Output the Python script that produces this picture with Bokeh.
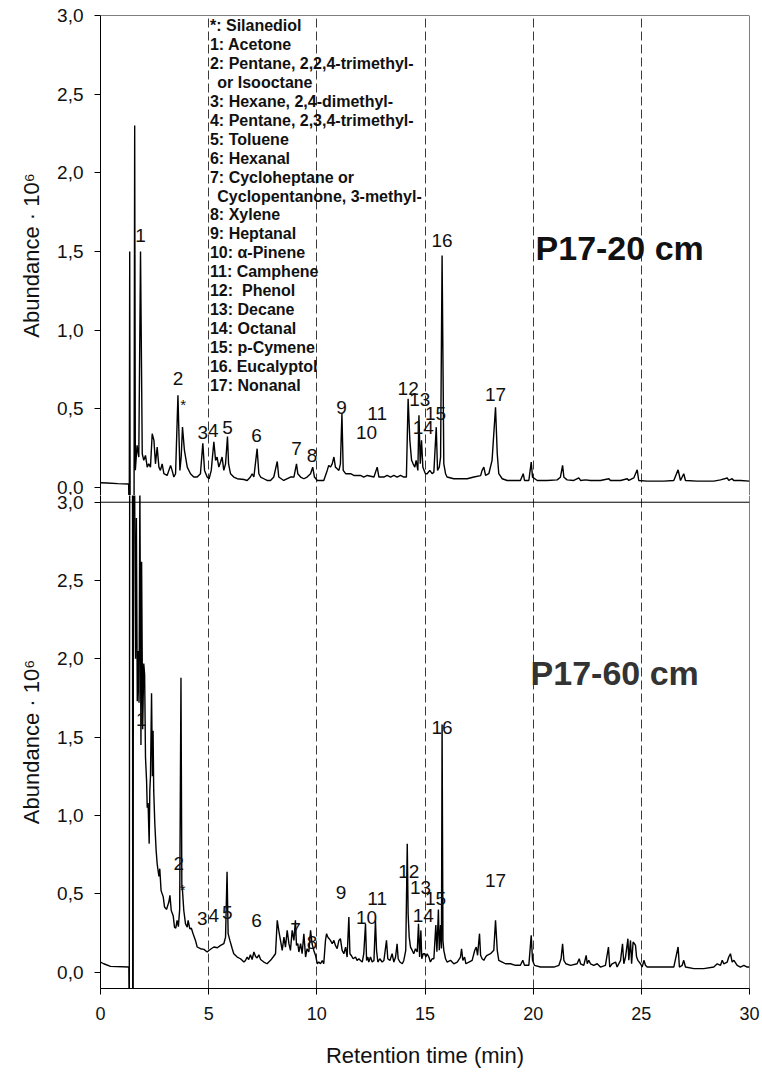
from bokeh.plotting import figure
from bokeh.layouts import column
from bokeh.models import Range1d, FixedTicker, CustomJSTickFormatter, Span
from bokeh.core.properties import value
from bokeh.embed import file_html
from bokeh.resources import INLINE

FONT = "Liberation Sans"

# ---------------- data: P17-20 cm (top) ----------------
top_rt = [0.00, 0.30, 0.80, 1.30, 1.33, 1.35, 1.37, 1.55, 1.58, 1.61, 1.69, 1.77, 1.85, 1.93,
          2.00, 2.08, 2.16, 2.23, 2.31, 2.39, 2.47, 2.54, 2.62, 2.70, 2.77, 2.85, 2.93, 3.08,
          3.24, 3.31, 3.39, 3.47, 3.58, 3.67, 3.73, 3.79, 3.88, 4.01, 4.16, 4.31, 4.47, 4.62,
          4.73, 4.81, 4.93, 5.02, 5.12, 5.24, 5.32, 5.39, 5.47, 5.55, 5.62, 5.70, 5.78, 5.87,
          5.92, 6.01, 6.16, 6.32, 6.63, 6.78, 6.93, 7.01, 7.09, 7.24, 7.32, 7.40, 7.55, 7.70,
          7.86, 8.01, 8.17, 8.24, 8.47, 8.78, 8.94, 9.06, 9.12, 9.25, 9.40, 9.55, 9.71, 9.81,
          9.89, 10.02, 10.17, 10.32, 10.48, 10.55, 10.63, 10.71, 10.79, 10.86, 10.94, 11.02,
          11.09, 11.16, 11.22, 11.33, 11.56, 11.71, 12.02, 12.17, 12.33, 12.64, 12.79, 12.87,
          13.10, 13.25, 13.41, 13.56, 13.71, 13.87, 14.02, 14.14, 14.22, 14.30, 14.38, 14.45,
          14.53, 14.59, 14.67, 14.72, 14.78, 14.84, 14.90, 14.96, 15.02, 15.10, 15.22, 15.33,
          15.41, 15.52, 15.58, 15.66, 15.72, 15.79, 15.87, 15.95, 16.02, 16.33, 16.64, 16.95,
          17.26, 17.57, 17.64, 17.72, 17.80, 17.95, 18.10, 18.26, 18.34, 18.41, 18.57, 18.80,
          19.11, 19.41, 19.54, 19.60, 19.80, 19.91, 19.97, 20.19, 20.65, 21.11, 21.26, 21.36,
          21.42, 21.57, 21.88, 22.11, 22.19, 22.42, 22.65, 23.11, 23.50, 23.57, 24.04, 24.35,
          24.42, 24.65, 24.81, 24.88, 25.27, 26.04, 26.50, 26.70, 26.81, 26.96, 27.04, 27.58,
          28.35, 28.66, 28.97, 29.04, 29.20, 29.27, 29.58, 30.00]
top_ab = [0.030, 0.028, 0.024, 0.022, -0.20, 1.50, -0.20, -0.20, 2.30, 0.110, 0.267, 0.193, 1.50, 0.214,
          0.172, 0.203, 0.129, 0.150, 0.129, 0.341, 0.299, 0.150, 0.256, 0.129, 0.108, 0.150, 0.087, 0.076,
          0.140, 0.108, 0.066, 0.087, 0.585, 0.108, 0.193, 0.383, 0.235, 0.129, 0.087, 0.066, 0.066, 0.087,
          0.280, 0.108, 0.066, 0.055, 0.108, 0.290, 0.172, 0.193, 0.129, 0.161, 0.193, 0.108, 0.150, 0.324,
          0.150, 0.087, 0.066, 0.055, 0.050, 0.044, 0.066, 0.087, 0.066, 0.246, 0.087, 0.066, 0.055, 0.044,
          0.044, 0.066, 0.165, 0.066, 0.044, 0.066, 0.066, 0.150, 0.087, 0.066, 0.055, 0.066, 0.087, 0.129,
          0.066, 0.044, 0.044, 0.044, 0.108, 0.140, 0.129, 0.150, 0.193, 0.129, 0.119, 0.108,
          0.150, 0.468, 0.108, 0.087, 0.087, 0.076, 0.076, 0.066, 0.076, 0.066, 0.129, 0.066,
          0.066, 0.076, 0.066, 0.076, 0.066, 0.076, 0.066, 0.066, 0.564, 0.299, 0.172, 0.150,
          0.129, 0.172, 0.108, 0.458, 0.150, 0.299, 0.129, 0.108, 0.087, 0.087, 0.108, 0.087,
          0.097, 0.383, 0.108, 0.129, 0.193, 1.475, 0.150, 0.087, 0.066, 0.055, 0.055, 0.055,
          0.066, 0.075, 0.108, 0.129, 0.076, 0.087, 0.172, 0.510, 0.214, 0.087, 0.055, 0.044,
          0.044, 0.044, 0.087, 0.044, 0.044, 0.161, 0.065, 0.044, 0.044, 0.048, 0.065, 0.140,
          0.065, 0.048, 0.044, 0.060, 0.044, 0.048, 0.044, 0.044, 0.055, 0.044, 0.044, 0.055,
          0.044, 0.060, 0.112, 0.044, 0.040, 0.040, 0.044, 0.112, 0.044, 0.087, 0.044, 0.040,
          0.040, 0.048, 0.060, 0.044, 0.055, 0.044, 0.044, 0.040]

# ---------------- data: P17-60 cm (bottom) ----------------
bot_rt = [0.00, 0.15, 0.46, 1.31, 1.33, 1.35, 1.48, 1.49, 1.51, 1.52, 1.57, 1.62, 1.66, 1.70,
          1.74, 1.78, 1.82, 1.87, 1.90, 1.95, 2.00, 2.04, 2.08, 2.13, 2.16, 2.20, 2.25, 2.28,
          2.31, 2.36, 2.40, 2.43, 2.46, 2.51, 2.57, 2.62, 2.70, 2.74, 2.80, 2.90, 2.96, 3.05,
          3.16, 3.21, 3.27, 3.36, 3.42, 3.48, 3.54, 3.60, 3.66, 3.72, 3.76, 3.79, 3.85, 3.93,
          4.01, 4.05, 4.13, 4.20, 4.28, 4.39, 4.47, 4.62, 4.78, 4.93, 5.01, 5.12, 5.24, 5.40,
          5.55, 5.70, 5.78, 5.85, 5.90, 5.98, 6.09, 6.16, 6.32, 6.47, 6.63, 6.70, 6.78, 6.85,
          6.93, 7.01, 7.09, 7.17, 7.24, 7.32, 7.40, 7.55, 7.70, 7.86, 7.98, 8.09, 8.17, 8.24,
          8.32, 8.40, 8.48, 8.55, 8.63, 8.71, 8.78, 8.86, 8.94, 9.01, 9.06, 9.12, 9.17, 9.25,
          9.32, 9.40, 9.48, 9.55, 9.63, 9.71, 9.78, 9.86, 9.94, 10.02, 10.09, 10.17, 10.25,
          10.32, 10.40, 10.45, 10.51, 10.57, 10.63, 10.71, 10.79, 10.86, 10.94, 11.02, 11.09,
          11.17, 11.25, 11.33, 11.40, 11.48, 11.53, 11.59, 11.68, 11.79, 11.86, 11.94, 12.02,
          12.10, 12.17, 12.25, 12.30, 12.36, 12.40, 12.48, 12.56, 12.64, 12.71, 12.76, 12.82,
          12.91, 13.02, 13.10, 13.22, 13.28, 13.38, 13.48, 13.56, 13.64, 13.71, 13.76, 13.84,
          13.95, 14.02, 14.11, 14.18, 14.22, 14.27, 14.33, 14.41, 14.48, 14.56, 14.64, 14.70,
          14.75, 14.81, 14.85, 14.92, 14.98, 15.04, 15.10, 15.18, 15.25, 15.33, 15.41, 15.50,
          15.55, 15.62, 15.66, 15.72, 15.76, 15.79, 15.83, 15.87, 15.95, 16.02, 16.18, 16.33,
          16.49, 16.64, 16.69, 16.75, 16.83, 16.89, 17.03, 17.18, 17.30, 17.37, 17.43, 17.52,
          17.57, 17.64, 17.72, 17.80, 17.87, 18.03, 18.18, 18.26, 18.34, 18.41, 18.57, 18.72,
          18.95, 19.18, 19.41, 19.52, 19.60, 19.80, 19.91, 19.97, 20.06, 20.34, 20.65, 20.96,
          21.19, 21.29, 21.36, 21.42, 21.51, 21.73, 22.03, 22.13, 22.19, 22.34, 22.45, 22.50,
          22.57, 22.65, 22.80, 22.96, 23.11, 23.34, 23.48, 23.54, 23.65, 23.81, 23.88, 24.04,
          24.13, 24.19, 24.27, 24.38, 24.42, 24.50, 24.55, 24.62, 24.68, 24.73, 24.78, 24.84,
          24.96, 25.04, 25.12, 25.19, 25.27, 25.58, 26.04, 26.50, 26.70, 26.76, 26.89, 26.96,
          27.04, 27.43, 27.89, 28.35, 28.51, 28.66, 28.74, 28.81, 28.97, 29.04, 29.12, 29.20,
          29.28, 29.43, 29.58, 29.74, 29.89, 30.00]
bot_ab = [0.064, 0.053, 0.036, 0.032, -0.30, 3.40, 3.40, -0.30, -0.30, 3.40, 3.30, 2.00, 2.90, 1.73,
          2.05, 1.72, 3.10, 1.45, 2.62, 1.55, 1.97, 1.90, 1.37, 1.22, 1.05, 1.08, 0.82, 1.16,
          1.25, 1.78, 1.25, 1.54, 1.16, 0.95, 0.78, 0.69, 0.61, 0.66, 0.52, 0.48, 0.415, 0.40,
          0.447, 0.49, 0.393, 0.36, 0.287, 0.28, 0.33, 0.29, 0.40, 1.88, 0.55, 0.52, 0.393, 0.308,
          0.287, 0.33, 0.276, 0.28, 0.245, 0.202, 0.16, 0.149, 0.145, 0.128, 0.138, 0.149, 0.16, 0.155,
          0.17, 0.181, 0.223, 0.64, 0.245, 0.202, 0.149, 0.117, 0.096, 0.085, 0.064, 0.074, 0.096, 0.08,
          0.11, 0.08, 0.128, 0.10, 0.09, 0.11, 0.08, 0.064, 0.053, 0.075, 0.096, 0.117, 0.33, 0.266,
          0.202, 0.138, 0.223, 0.159, 0.266, 0.181, 0.138, 0.266, 0.202, 0.33, 0.17, 0.181, 0.128, 0.181,
          0.117, 0.245, 0.096, 0.149, 0.128, 0.266, 0.181, 0.138, 0.106, 0.053, 0.064, 0.053, 0.074,
          0.053, 0.202, 0.245, 0.223, 0.213, 0.202, 0.181, 0.202, 0.17, 0.149, 0.202, 0.213,
          0.138, 0.117, 0.159, 0.096, 0.351, 0.117, 0.106, 0.085, 0.096, 0.074, 0.085, 0.074,
          0.064, 0.117, 0.308, 0.074, 0.096, 0.064, 0.096, 0.064, 0.074, 0.33, 0.138, 0.064,
          0.085, 0.064, 0.074, 0.202, 0.085, 0.074, 0.117, 0.064, 0.096, 0.181, 0.085, 0.064,
          0.053, 0.074, 0.138, 0.819, 0.372, 0.223, 0.159, 0.138, 0.117, 0.149, 0.128, 0.308,
          0.096, 0.266, 0.085, 0.117, 0.117, 0.096, 0.117, 0.096, 0.064, 0.085, 0.085, 0.30,
          0.13, 0.40, 0.14, 0.30, 0.15, 1.58, 0.20, 0.139, 0.085, 0.064, 0.075, 0.053,
          0.064, 0.096, 0.149, 0.075, 0.096, 0.053, 0.064, 0.075, 0.139, 0.16, 0.107, 0.245,
          0.107, 0.085, 0.075, 0.096, 0.107, 0.117, 0.139, 0.33, 0.139, 0.075, 0.064, 0.053,
          0.053, 0.043, 0.043, 0.075, 0.043, 0.043, 0.234, 0.075, 0.043, 0.032, 0.032, 0.032,
          0.043, 0.085, 0.181, 0.075, 0.053, 0.043, 0.053, 0.085, 0.053, 0.043, 0.107, 0.053,
          0.075, 0.053, 0.043, 0.053, 0.032, 0.043, 0.16, 0.032, 0.053, 0.064, 0.032, 0.075,
          0.181, 0.053, 0.096, 0.213, 0.075, 0.202, 0.053, 0.192, 0.181, 0.17, 0.096, 0.075,
          0.053, 0.032, 0.075, 0.043, 0.032, 0.032, 0.032, 0.032, 0.16, 0.032, 0.043, 0.075,
          0.032, 0.022, 0.022, 0.032, 0.053, 0.043, 0.075, 0.053, 0.064, 0.096, 0.117, 0.064,
          0.075, 0.043, 0.032, 0.043, 0.032, 0.032]

# ---------------- peak labels ----------------
top_lbl = ["1", "2", "3", "4", "5", "6", "7", "8", "9", "10", "11", "12", "13", "14", "15", "16", "17"]
top_lbl_rt = [1.85, 3.58, 4.73, 5.21, 5.87, 7.21, 9.06, 9.78, 11.14, 12.30, 12.79, 14.22, 14.76, 14.92, 15.49, 15.79, 18.26]
top_lbl_ab = [1.60, 0.69, 0.35, 0.36, 0.38, 0.33, 0.25, 0.20, 0.51, 0.35, 0.47, 0.63, 0.56, 0.38, 0.47, 1.57, 0.59]
top_star_rt = [3.82]
top_star_ab = [0.53]

bot_lbl = ["1", "2", "3", "4", "5", "6", "7", "8", "9", "10", "11", "12", "13", "14", "15", "16", "17"]
bot_lbl_rt = [1.88, 3.62, 4.70, 5.24, 5.86, 7.21, 9.01, 9.78, 11.12, 12.30, 12.79, 14.25, 14.79, 14.92, 15.49, 15.79, 18.26]
bot_lbl_ab = [1.61, 0.69, 0.34, 0.36, 0.38, 0.33, 0.27, 0.19, 0.51, 0.35, 0.47, 0.64, 0.54, 0.36, 0.47, 1.56, 0.585]
bot_star_rt = [3.80]
bot_star_ab = [0.53]

legend_lines = ["*: Silanediol", "1: Acetone", "2: Pentane, 2,2,4-trimethyl-", "or Isooctane",
                "3: Hexane, 2,4-dimethyl-", "4: Pentane, 2,3,4-trimethyl-", "5: Toluene", "6: Hexanal",
                "7: Cycloheptane or", "Cyclopentanone, 3-methyl-", "8: Xylene", "9: Heptanal",
                "10: \u03b1-Pinene", "11: Camphene", "12: \u00a0Phenol", "13: Decane", "14: Octanal",
                "15: p-Cymene", "16. Eucalyptol", "17: Nonanal"]
legend_indent = [0, 0, 0, 1, 0, 0, 0, 0, 0, 1, 0, 0, 0, 0, 0, 0, 0, 0, 0, 0]

x_ticks = [0, 5, 10, 15, 20, 25, 30]
y_ticks = [0.0, 0.5, 1.0, 1.5, 2.0, 2.5, 3.0]
grid_ticks = [5, 10, 15, 20, 25]

comma_fmt = CustomJSTickFormatter(code="return tick.toFixed(1).replace('.', ',');")


def make_panel(height, ymin, ymax, top_border, bottom_border, with_x):
    p = figure(width=762, height=height, x_range=Range1d(0, 30), y_range=Range1d(ymin, ymax),
               output_backend="svg", toolbar_location=None,
               x_axis_location="below" if with_x else None,
               min_border_left=100, min_border_right=13,
               min_border_top=top_border, min_border_bottom=bottom_border)
    p.outline_line_color = None
    p.background_fill_color = "white"
    p.border_fill_color = "white"
    p.ygrid.visible = False
    p.xgrid.ticker = FixedTicker(ticks=grid_ticks)
    p.xgrid.grid_line_color = "#3a3a3a"
    p.xgrid.grid_line_dash = "9 4"
    p.xgrid.grid_line_width = 1
    # panel frame: top edge at 3,0 and right edge at 30 min
    p.add_layout(Span(location=3.0, dimension="width", line_color="black", line_width=1))
    p.add_layout(Span(location=30, dimension="height", line_color="black", line_width=1))
    ax = p.yaxis[0]
    ax.ticker = FixedTicker(ticks=y_ticks)
    ax.formatter = comma_fmt
    ax.axis_label = "Abundance \u00b7 10\u2076"
    ax.axis_label_text_font = FONT
    ax.axis_label_text_font_style = "normal"
    ax.axis_label_text_font_size = "22px"
    ax.axis_label_text_color = "#111111"
    ax.axis_label_standoff = 10
    ax.major_label_text_font = FONT
    ax.major_label_text_font_size = "19px"
    ax.major_label_text_color = "#111111"
    ax.major_label_standoff = 11
    ax.major_tick_in = 0
    ax.major_tick_out = 6
    ax.minor_tick_in = 0
    ax.minor_tick_out = 0
    ax.axis_line_color = "black"
    ax.major_tick_line_color = "black"
    if with_x:
        xa = p.xaxis[0]
        xa.ticker = FixedTicker(ticks=x_ticks)
        xa.axis_label = "Retention time (min)"
        xa.axis_label_text_font = FONT
        xa.axis_label_text_font_style = "normal"
        xa.axis_label_text_font_size = "22px"
        xa.axis_label_text_color = "#111111"
        xa.axis_label_standoff = 20
        xa.major_label_text_font = FONT
        xa.major_label_text_font_size = "18px"
        xa.major_label_text_color = "#111111"
        xa.major_label_standoff = 12
        xa.major_tick_in = 0
        xa.major_tick_out = 6
        xa.minor_tick_in = 0
        xa.minor_tick_out = 0
        xa.axis_line_color = "black"
    return p


def add_labels(p, rt, ab, txt, star_rt, star_ab):
    p.text(x=rt, y=ab, text=txt, text_font=value(FONT), text_font_size="19px",
           text_align="center", text_baseline="middle", text_color="#111111")
    p.text(x=star_rt, y=star_ab, text=["*"] * len(star_rt), text_font=value(FONT),
           text_font_size="15px", text_align="center", text_baseline="middle", text_color="#111111")


# ---------------- top panel ----------------
top = make_panel(495, -0.0515, 3.0, 15, 0, False)
top.line(top_rt, top_ab, line_color="black", line_width=1.4)
add_labels(top, top_lbl_rt, top_lbl_ab, top_lbl, top_star_rt, top_star_ab)

leg_y0 = 2.937
leg_dy = 0.1205
leg_x = [5.06 + 0.34 * k for k in legend_indent]
leg_y = [leg_y0 - i * leg_dy for i in range(len(legend_lines))]
top.text(x=leg_x, y=leg_y, text=legend_lines, text_font=value(FONT), text_font_size="16px",
         text_font_style="bold", text_align="left", text_baseline="middle", text_color="#111111")
top.text(x=[20.11], y=[1.52], text=["P17-20 cm"], text_font=value(FONT), text_font_size="34px",
         text_font_style="bold", text_align="left", text_baseline="alphabetic", text_color="#111111")

# ---------------- bottom panel ----------------
bot = make_panel(578, -0.105, 3.043, 0, 85, True)
bot.line(bot_rt, bot_ab, line_color="black", line_width=1.4)
add_labels(bot, bot_lbl_rt, bot_lbl_ab, bot_lbl, bot_star_rt, bot_star_ab)
bot.text(x=[19.88], y=[1.91], text=["P17-60 cm"], text_font=value(FONT), text_font_size="34px",
         text_font_style="bold", text_align="left", text_baseline="alphabetic", text_color="#333333")

layout = column(top, bot, spacing=0)
open("out.html", "w").write(file_html(layout, INLINE))
